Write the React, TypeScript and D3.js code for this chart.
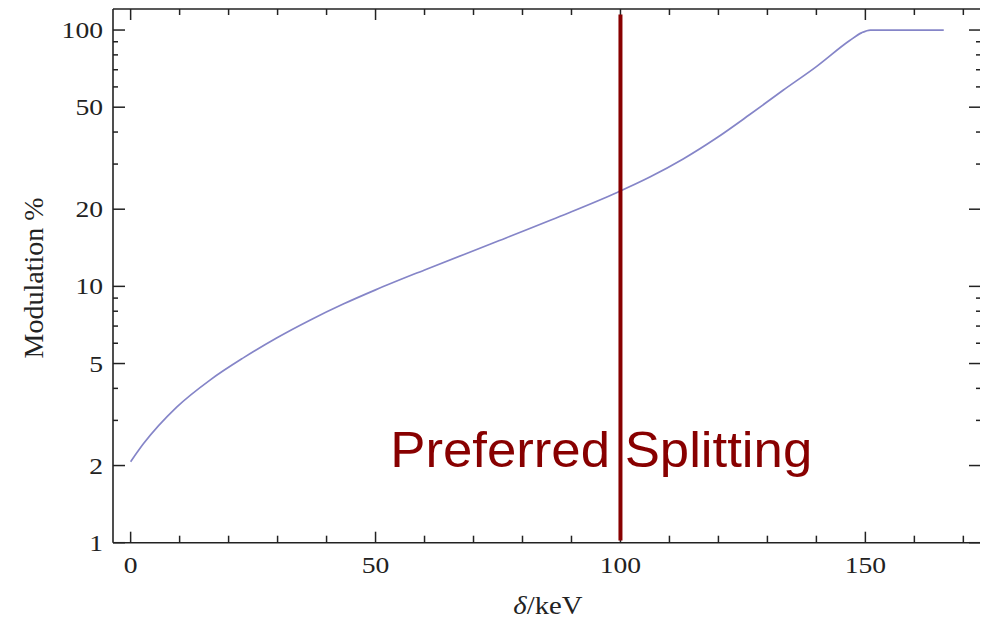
import React from "react";
import * as d3 from "d3";

// curve: splitting (keV) vs modulation (%)
const deltaValues = [0, 2.6, 9.4, 16.2, 23.0, 29.8, 36.6, 43.4, 50, 60.4, 74.0, 87.7, 99.2, 106, 112.8, 119.6, 126.4, 133.2, 140.0, 146.8, 149.2, 151, 166];
const modulationValues = [2.07, 2.43, 3.38, 4.31, 5.26, 6.29, 7.38, 8.53, 9.69, 11.67, 14.76, 18.77, 23.2, 26.7, 31.4, 37.9, 46.8, 58.2, 72.0, 91.0, 97.5, 100, 100];

const xMajorTicks = [0, 50, 100, 150];
const xMinorTicks = [10, 20, 30, 40, 60, 70, 80, 90, 110, 120, 130, 140, 160, 170];
const yMajorTicks = [1, 2, 5, 10, 20, 50, 100];
const yMinorTicks = [3, 4, 6, 7, 8, 9, 30, 40, 60, 70, 80, 90];

const splitDelta = 100;
const splitSpan = [1.02, 115];
const splitLabel = "Preferred Splitting";

const width = 985;
const height = 618;
const frame = { left: 113, right: 980, top: 9, bottom: 542.7 };

const x = d3.scaleLinear().domain([-3.6, 173.4]).range([frame.left, frame.right]);
const y = d3.scaleLog().domain([1, 120.8]).range([frame.bottom, frame.top]);

const points = deltaValues.map((d, i) => [d, modulationValues[i]] as [number, number]);
const line = d3
  .line<[number, number]>()
  .x(d => x(d[0]))
  .y(d => y(d[1]))
  .curve(d3.curveMonotoneX);

const axisColor = "#222";
const serif = "'Liberation Serif', 'Times New Roman', serif";

export default function App() {
  return (
    <svg width={width} height={height} style={{ display: "block", position: "absolute", left: 0, top: 0 }}>
      <rect width={width} height={height} fill="#fff" />

      {/* frame: left, top, bottom */}
      <g stroke={axisColor} strokeWidth={1.6} fill="none">
        <line x1={frame.left} x2={frame.left} y1={frame.top} y2={frame.bottom} />
        <line x1={frame.left} x2={frame.right} y1={frame.top} y2={frame.top} />
        <line x1={frame.left} x2={frame.right} y1={frame.bottom} y2={frame.bottom} />
      </g>

      {/* x ticks, bottom and top */}
      <g stroke={axisColor} strokeWidth={1.5}>
        {xMajorTicks.map(t => (
          <g key={"xM" + t}>
            <line x1={x(t)} x2={x(t)} y1={frame.bottom} y2={frame.bottom - 11} />
            <line x1={x(t)} x2={x(t)} y1={frame.top} y2={frame.top + 11} />
          </g>
        ))}
        {xMinorTicks.map(t => (
          <g key={"xm" + t}>
            <line x1={x(t)} x2={x(t)} y1={frame.bottom} y2={frame.bottom - 7} />
            <line x1={x(t)} x2={x(t)} y1={frame.top} y2={frame.top + 6} />
          </g>
        ))}
      </g>

      {/* y ticks, left and right */}
      <g stroke={axisColor} strokeWidth={1.5}>
        {yMajorTicks.map(t => (
          <g key={"yM" + t}>
            <line x1={frame.left} x2={frame.left + 12} y1={y(t)} y2={y(t)} />
            <line x1={frame.right} x2={frame.right - 11} y1={y(t)} y2={y(t)} />
          </g>
        ))}
        {yMinorTicks.map(t => (
          <g key={"ym" + t}>
            <line x1={frame.left} x2={frame.left + 5} y1={y(t)} y2={y(t)} />
            <line x1={frame.right} x2={frame.right - 4} y1={y(t)} y2={y(t)} />
          </g>
        ))}
      </g>

      {/* tick labels */}
      <g fontFamily={serif} fontSize={24} fill="#222">
        {xMajorTicks.map(t => (
          <text key={"xl" + t} transform={`translate(${x(t)},${frame.bottom + 30}) scale(1.15,1)`} textAnchor="middle">
            {t}
          </text>
        ))}
        {yMajorTicks.map(t => (
          <text key={"yl" + t} transform={`translate(${frame.left - 10},${y(t) + 8}) scale(1.15,1)`} textAnchor="end">
            {t}
          </text>
        ))}
      </g>

      {/* axis labels */}
      <text
        transform={`translate(${(x(0) + x(150)) / 2 + 50},${frame.bottom + 71}) scale(1.15,1)`}
        textAnchor="middle"
        fontFamily={serif}
        fontSize={25}
        fill="#222"
      >
        <tspan fontStyle="italic">δ</tspan>/keV
      </text>
      <text
        transform={`translate(43,278) rotate(-90)`}
        textAnchor="middle"
        fontFamily={serif}
        fontSize={28}
        fill="#222"
      >
        Modulation %
      </text>

      {/* curve */}
      <path d={line(points) || ""} fill="none" stroke="#8585c8" strokeWidth={1.7} />

      {/* preferred splitting marker */}
      <line
        x1={x(splitDelta)}
        x2={x(splitDelta)}
        y1={y(splitSpan[0])}
        y2={y(splitSpan[1])}
        stroke="#880000"
        strokeWidth={4}
      />
      <text
        x={x(53)}
        y={y(1.97)}
        fontFamily="'Liberation Sans', Arial, sans-serif"
        fontSize={50}
        fill="#880000"
        textLength={422}
        lengthAdjust="spacingAndGlyphs"
      >
        {splitLabel}
      </text>
    </svg>
  );
}
